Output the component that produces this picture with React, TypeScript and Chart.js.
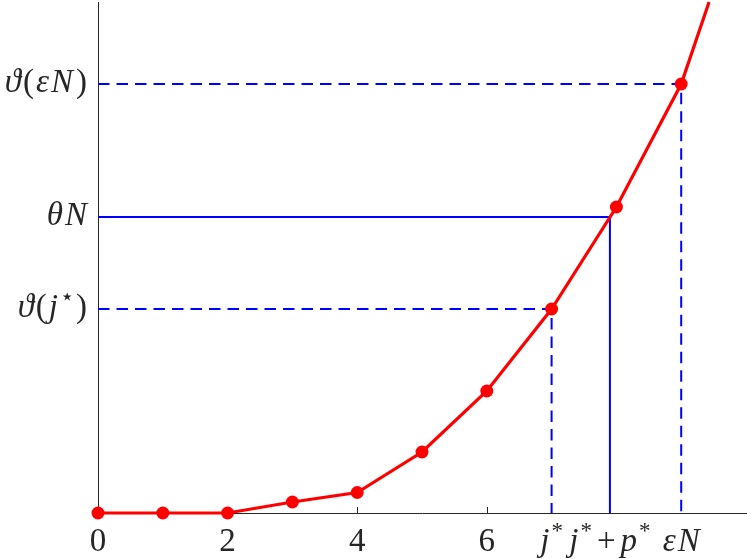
import React, { useEffect, useRef } from "react";
import { Chart, registerables } from "chart.js";

Chart.register(...registerables);

// ---- data ----
const stepX = [0, 1, 2, 3, 4, 5, 6, 7, 8, 9];
const thetaValues = [0, 0, 0, 11, 20.5, 61, 122, 204, 306, 429];
// continuation of the curve beyond the last marker (no marker)
const tailX = [9.43];
const tailY = [511];

const jStar = 7;
const jStarPlusP = 7.9;
const epsN = 9;
const thetaJStar = 204;
const thetaN = 296;
const thetaEpsN = 429;

const X_MIN = 0;
const X_MAX = 10;
const Y_MIN = 0;
const Y_MAX = 511;

type Seg = { t: string; it?: boolean; sup?: boolean; gap?: number };

const xTickValues = [0, 2, 4, 6, jStar, jStarPlusP, epsN];
const xTickLabels: Seg[][] = [
  [{ t: "0" }],
  [{ t: "2" }],
  [{ t: "4" }],
  [{ t: "6" }],
  [{ t: "j", it: true, gap: 2 }, { t: "*", sup: true }],
  [
    { t: "j", it: true, gap: 2 },
    { t: "*", sup: true, gap: 5 },
    { t: "+", gap: 5 },
    { t: "p", it: true, gap: 2 },
    { t: "*", sup: true },
  ],
  [{ t: "ε", it: true, gap: 2 }, { t: "N", it: true }],
];
const xMinorTicks = [0, 2, 4, 6];

const yTickValues = [thetaJStar, thetaN, thetaEpsN];
const yTickLabels: Seg[][] = [
  [
    { t: "ϑ", it: true, gap: 2 },
    { t: "(", gap: 2 },
    { t: "j", it: true, gap: 2 },
    { t: "⋆", sup: true, gap: 2 },
    { t: ")" },
  ],
  [{ t: "θ", it: true, gap: 2 }, { t: "N", it: true }],
  [
    { t: "ϑ", it: true, gap: 2 },
    { t: "(", gap: 2 },
    { t: "ε", it: true, gap: 2 },
    { t: "N", it: true, gap: 3 },
    { t: ")" },
  ],
];

const FONT_SIZE = 33;
const FAMILY = '"Liberation Serif", "DejaVu Serif", serif';

function segFont(s: Seg) {
  const size = s.sup ? Math.round(FONT_SIZE * 0.7) : FONT_SIZE;
  return `${s.it ? "italic " : ""}${size}px ${FAMILY}`;
}

function measure(ctx: CanvasRenderingContext2D, segs: Seg[]) {
  let w = 0;
  for (const s of segs) {
    ctx.font = segFont(s);
    w += ctx.measureText(s.t).width + (s.gap || 0);
  }
  return w;
}

function drawRich(
  ctx: CanvasRenderingContext2D,
  segs: Seg[],
  x: number,
  baseline: number,
  align: "center" | "right"
) {
  const w = measure(ctx, segs);
  let cx = align === "center" ? x - w / 2 : x - w;
  ctx.textAlign = "left";
  ctx.textBaseline = "alphabetic";
  for (const s of segs) {
    ctx.font = segFont(s);
    const y = s.sup ? baseline - FONT_SIZE * 0.38 : baseline;
    ctx.fillText(s.t, cx, y);
    cx += ctx.measureText(s.t).width + (s.gap || 0);
  }
}

const AXIS_COLOR = "#262626";

const labelPlugin = {
  id: "mathLabels",
  beforeDatasetsDraw(chart: any) {
    const { ctx, scales } = chart;
    const xs = scales.x;
    const ys = scales.y;
    ctx.save();
    ctx.strokeStyle = AXIS_COLOR;
    ctx.lineWidth = 1;
    const bottom = ys.getPixelForValue(Y_MIN);
    for (const v of xMinorTicks) {
      const px = Math.round(xs.getPixelForValue(v)) + 0.5;
      ctx.beginPath();
      ctx.moveTo(px, bottom);
      ctx.lineTo(px, bottom - 6);
      ctx.stroke();
    }
    ctx.restore();
  },
  afterDraw(chart: any) {
    const { ctx, scales } = chart;
    const xs = scales.x;
    const ys = scales.y;
    ctx.save();
    ctx.fillStyle = "#262626";
    const bottom = ys.getPixelForValue(Y_MIN);
    xTickValues.forEach((v, i) => {
      drawRich(ctx, xTickLabels[i], xs.getPixelForValue(v), bottom + 38, "center");
    });
    const left = xs.getPixelForValue(X_MIN);
    yTickValues.forEach((v, i) => {
      drawRich(ctx, yTickLabels[i], left - 11, ys.getPixelForValue(v) + 8, "right");
    });
    ctx.restore();
  },
};

export default function App() {
  const ref = useRef<HTMLCanvasElement>(null);
  useEffect(() => {
    document.body.style.margin = "0";
    const canvas = ref.current!;
    const curve = stepX.map((x, i) => ({ x, y: thetaValues[i] })).concat(
      tailX.map((x, i) => ({ x, y: tailY[i] }))
    );
    const radii = stepX.map(() => 6.5).concat(tailX.map(() => 0));
    const blue = "#0000ff";
    const dash = [11.5, 7];
    const chart = new Chart(canvas, {
      type: "line",
      data: {
        datasets: [
          {
            data: curve,
            borderColor: "#ff0000",
            backgroundColor: "#ff0000",
            borderWidth: 3.2,
            pointRadius: radii,
            pointBorderWidth: 0,
            pointBackgroundColor: "#ff0000",
            clip: false as any,
            order: 0,
          },
          {
            data: [
              { x: X_MIN, y: thetaJStar },
              { x: jStar, y: thetaJStar },
              { x: jStar, y: Y_MIN },
            ],
            borderColor: blue,
            borderWidth: 2,
            borderDash: dash,
            pointRadius: 0,
            order: 1,
          },
          {
            data: [
              { x: X_MIN, y: thetaN },
              { x: jStarPlusP, y: thetaN },
              { x: jStarPlusP, y: Y_MIN },
            ],
            borderColor: blue,
            borderWidth: 2,
            pointRadius: 0,
            order: 1,
          },
          {
            data: [
              { x: X_MIN, y: thetaEpsN },
              { x: epsN, y: thetaEpsN },
              { x: epsN, y: Y_MIN },
            ],
            borderColor: blue,
            borderWidth: 2,
            borderDash: dash,
            pointRadius: 0,
            order: 1,
          },
        ],
      },
      options: {
        responsive: false,
        animation: false,
        events: [],
        layout: { autoPadding: false, padding: { top: 2, right: 1, left: 0, bottom: 0 } },
        plugins: { legend: { display: false }, tooltip: { enabled: false } },
        scales: {
          x: {
            type: "linear",
            min: X_MIN,
            max: X_MAX,
            ticks: { display: false },
            grid: { display: false },
            border: { display: true, color: AXIS_COLOR, width: 1 },
            afterFit: (s: any) => {
              s.height = 46;
            },
          },
          y: {
            type: "linear",
            min: Y_MIN,
            max: Y_MAX,
            ticks: { display: false },
            grid: { display: false },
            border: { display: true, color: AXIS_COLOR, width: 1 },
            afterFit: (s: any) => {
              s.width = 98;
            },
          },
        },
      },
      plugins: [labelPlugin],
    });
    return () => chart.destroy();
  }, []);
  return (
    <div style={{ position: "absolute", left: 0, top: 0, width: 747, height: 559, background: "#fff" }}>
      <canvas ref={ref} width={747} height={559} />
    </div>
  );
}
